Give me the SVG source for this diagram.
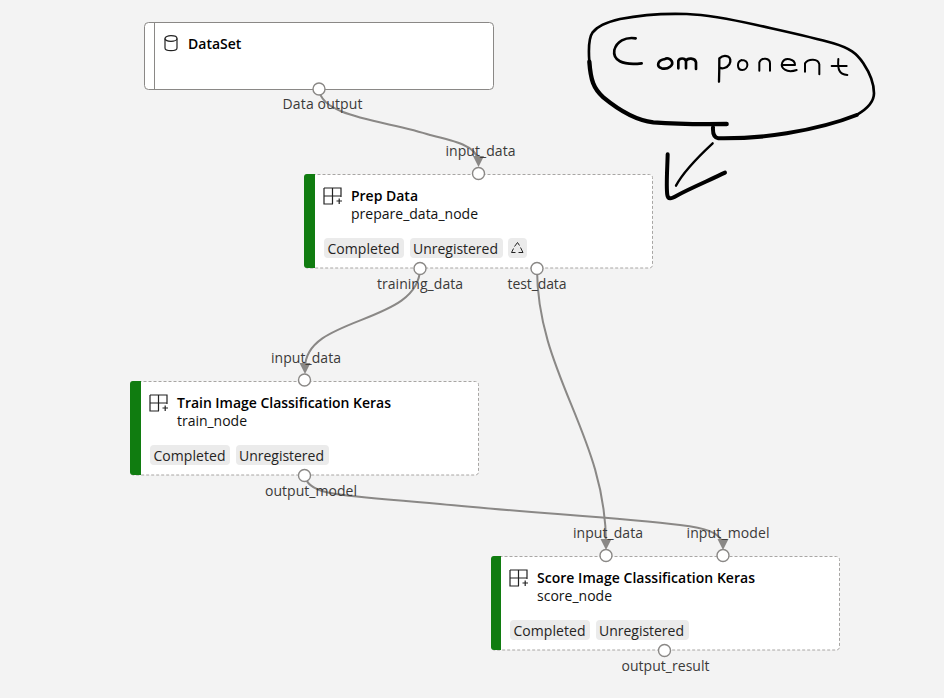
<svg xmlns="http://www.w3.org/2000/svg" width="944" height="698" viewBox="0 0 944 698">
<style>
text{font-family:"Open Sans","Noto Sans","Liberation Sans",sans-serif;font-size:14px;fill:#252423}
.title{font-weight:600;fill:#000}
.sub{fill:#111}
.box{fill:#fff;stroke:#a8a6a4;stroke-dasharray:3 2}
.bar{fill:#107c10}
.tag{fill:#ebebeb}
.port{fill:#fff;stroke:#8a8886;stroke-width:1.4}
.edge{fill:none;stroke:#8a8886;stroke-width:2}
.head{fill:#8a8886}
.ic{fill:none;stroke:#222;stroke-width:1.2}
.ink{fill:none;stroke:#000;stroke-linecap:round;stroke-linejoin:round}
.plabel{fill:#3b3a39}
</style>
<rect width="944" height="698" fill="#f3f3f3"/>
<g id="connectors">
<path class="edge" d="M319 89C321 118 390 121 430 135C455 141 476 146 478 160"/><path class="head" d="M473 156L484 156L478.500 167Z"/>
<path class="edge" d="M420 268C420 325 305 315 305 368"/><path class="head" d="M299.500 363L310.500 363L305 374Z"/>
<path class="edge" d="M537 268C537 375 606 435 606 544"/><path class="head" d="M600.500 539L611.500 539L606 550Z"/>
<path class="edge" d="M304.500 475C308 498 350 495 440 504C520 512 620 518 680 525C705 528 720 532 723 544"/><path class="head" d="M717.500 539L728.500 539L723 550Z"/>
</g>
<g id="dataset">
<rect x="144.500" y="22.500" width="349" height="67" rx="4" fill="#fff" stroke="#8a8886"/>
<path d="M154.500 23V89" stroke="#8a8886" fill="none"/>
<g class="ic" transform="translate(164 35)"><ellipse cx="7" cy="3.500" rx="6" ry="2.800"/><path d="M1 3.500V13C1 16.500 13 16.500 13 13V3.500"/></g>
<text class="title" x="188" y="49">DataSet</text>
<circle class="port" cx="319" cy="89" r="6"/>
<text class="plabel" x="322.500" y="109" text-anchor="middle" textLength="80">Data output</text>
</g>
<g id="prep-data">
<rect class="box" x="304.500" y="174.500" width="348" height="93.500" rx="3"/>
<path class="bar" d="M315 174H307Q304 174 304 177V265Q304 268 307 268H315Z"/>
<g class="ic"><path d="M324 188H341V197M324 188V204H333M324 196H341M332.500 188V204"/><path d="M336.500 201H342M339.200 198.500V204"/></g>
<text class="title" x="351" y="201" textLength="67">Prep Data</text>
<text class="sub" x="351" y="219" textLength="127">prepare_data_node</text>
<rect class="tag" x="324" y="238" width="80" height="20" rx="4"/><text x="327.500" y="254" textLength="72">Completed</text>
<rect class="tag" x="410" y="238" width="93" height="20" rx="4"/><text x="413" y="254" textLength="85">Unregistered</text>
<rect class="tag" x="508" y="238" width="19" height="20" rx="4"/>
<path d="M513.500 248.500L511.500 252.500H515.500M514.500 246.500L517.500 242.500L519.500 245.500M520.500 247.500L523 252.500H518.500" fill="none" stroke="#222" stroke-width="1"/>
<circle class="port" cx="478.500" cy="173.500" r="6"/><circle class="port" cx="420" cy="268.500" r="6"/><circle class="port" cx="537" cy="268.500" r="6"/>
<text class="plabel" x="480.500" y="155.500" text-anchor="middle" textLength="70">input_data</text>
<text class="plabel" x="420" y="288.500" text-anchor="middle" textLength="86">training_data</text>
<text class="plabel" x="537" y="288.500" text-anchor="middle" textLength="59">test_data</text>
</g>
<g id="train">
<rect class="box" x="130.500" y="381.500" width="348" height="93.500" rx="3"/>
<path class="bar" d="M141 381H133Q130 381 130 384V472Q130 475 133 475H141Z"/>
<g class="ic"><path d="M150 395H167V404M150 395V411H159M150 403H167M158.500 395V411"/><path d="M162.500 408H168M165.200 405.500V411"/></g>
<text class="title" x="177" y="408" textLength="214">Train Image Classification Keras</text>
<text class="sub" x="177" y="426" textLength="70">train_node</text>
<rect class="tag" x="150" y="445" width="80" height="20" rx="4"/><text x="153.500" y="461" textLength="72">Completed</text>
<rect class="tag" x="236" y="445" width="93" height="20" rx="4"/><text x="239" y="461" textLength="85">Unregistered</text>
<circle class="port" cx="304.500" cy="380" r="6"/><circle class="port" cx="304.500" cy="475.500" r="6"/>
<text class="plabel" x="306" y="362.500" text-anchor="middle" textLength="70">input_data</text>
<text class="plabel" x="311" y="495.500" text-anchor="middle" textLength="92">output_model</text>
</g>
<g id="score">
<rect class="box" x="491.500" y="556.500" width="348" height="93.500" rx="3"/>
<path class="bar" d="M501 556H494Q491 556 491 559V647Q491 650 494 650H501Z"/>
<g class="ic"><path d="M510 570H527V579M510 570V586H519M510 578H527M518.500 570V586"/><path d="M522.500 583H528M525.200 580.500V586"/></g>
<text class="title" x="537" y="583" textLength="218">Score Image Classification Keras</text>
<text class="sub" x="537" y="601" textLength="75">score_node</text>
<rect class="tag" x="510" y="620" width="80" height="20" rx="4"/><text x="513.500" y="636" textLength="72">Completed</text>
<rect class="tag" x="596" y="620" width="93" height="20" rx="4"/><text x="599" y="636" textLength="85">Unregistered</text>
<circle class="port" cx="606" cy="555.500" r="6"/><circle class="port" cx="723" cy="555.500" r="6"/><circle class="port" cx="664.500" cy="650.500" r="6"/>
<text class="plabel" x="608" y="538" text-anchor="middle" textLength="70">input_data</text>
<text class="plabel" x="728" y="538" text-anchor="middle" textLength="83">input_model</text>
<text class="plabel" x="665.500" y="671" text-anchor="middle" textLength="88">output_result</text>
</g>
<g id="annotation" transform="translate(570 5) scale(.33333)">
<path class="ink" stroke-width="8" d="M58 170C55 130 55 100 68 82C85 60 115 50 150 42C210 30 290 25 350 27C420 30 480 42 560 60C640 78 730 97 790 115C840 130 860 145 880 175C900 205 912 240 912 265C912 290 895 310 860 330"/>
<path class="ink" stroke-width="13" d="M470 357C400 358 300 356 250 352C190 345 140 310 100 277C70 250 62 225 58 170"/>
<path class="ink" stroke-width="12" d="M860 330C810 350 740 370 650 385C590 395 520 401 445 400C432 398 428 385 429 367"/>
<path class="ink" stroke-width="7" d="M428 415C385 455 340 500 318 542"/>
<path class="ink" stroke-width="12" d="M293 448C292 490 288 545 292 570C294 585 305 580 320 572C360 550 420 525 465 503"/>
<path class="ink" stroke-width="8" d="M197 100C165 95 140 110 133 135C128 165 155 182 215 175"/>
<path class="ink" stroke-width="8" d="M285 162C262 165 258 185 275 190C295 195 312 180 305 168C300 160 290 158 285 162M325 190V168C328 158 345 158 348 168V190M348 168C352 158 375 158 378 172V192"/>
<path class="ink" stroke-width="7" d="M447 230C448 200 448 170 448 160C465 145 490 155 478 178C470 190 455 192 450 188"/>
<path class="ink" stroke-width="6" d="M515 165C500 170 500 195 517 195C535 195 540 165 515 165M568 197V172C575 155 600 160 600 175V197"/>
<path class="ink" stroke-width="6" d="M640 180H675C675 162 645 155 637 172C630 190 650 205 680 195M705 200V175C715 160 745 160 748 178V208M805 162C803 190 805 208 832 210M785 183H830"/>
</g>
</svg>
